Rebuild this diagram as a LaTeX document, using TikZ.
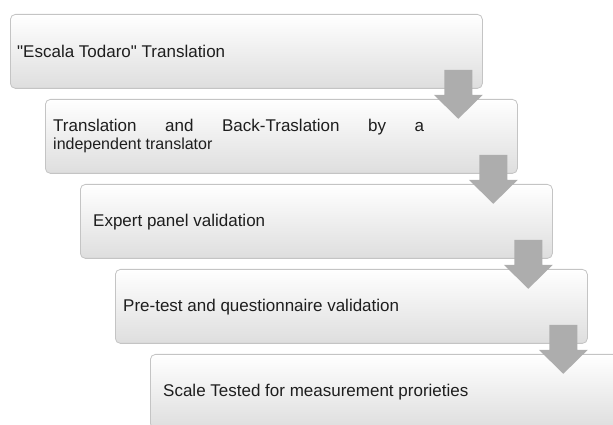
\documentclass[tikz,border=0pt]{standalone}
\usepackage{fontspec}
\newfontfamily\arialfont{Liberation Sans}
\definecolor{boxline}{HTML}{C4C4C4}
\definecolor{arrowgray}{HTML}{ADADAD}
\definecolor{txt}{HTML}{1E1E1E}
\begin{document}
\begin{tikzpicture}[
  stepbox/.style={rectangle, rounded corners=5pt, draw=boxline, line width=0.8pt,
    top color=white, middle color=black!3, bottom color=black!13,
    minimum width=472pt, minimum height=74pt, inner sep=0pt, anchor=north west},
  label/.style={anchor=west, inner sep=0pt, text=txt, font=\arialfont\fontsize{17}{18}\selectfont, align=left},
  blockarrow/.style={fill=arrowgray}
]
\useasboundingbox (0,0) rectangle (613pt,425pt);
\clip (0,0) rectangle (613pt,425pt);
% boxes
\foreach \i in {1,...,5}{
  \node[stepbox] (b\i) at ({10pt+35pt*(\i-1)},{411pt-85pt*(\i-1)}) {};
}
% texts
\node[label] (t1) at (17pt,374pt) {"Escala Todaro" Translation};
\node[label] (t2) at (53pt,289pt) {\hbox to 371pt{Translation\hfill and\hfill Back-Traslation\hfill by\hfill a}\\{\fontsize{16}{18}\selectfont independent translator}};
\node[label] (t3) at (93pt,203pt) {Expert panel validation};
\node[label] (t4) at (123pt,118pt) {Pre-test and questionnaire validation};
\node[label] (t5) at (163pt,33pt) {Scale Tested for measurement prorieties};
% block arrows
\foreach \i in {1,...,4}{
  \fill[blockarrow, shift={(b\i.south east)}]
    (-38.5pt,19pt) -- (-10.5pt,19pt) -- (-10.5pt,-6pt) -- (0pt,-6pt)
    -- (-24.5pt,-30pt) -- (-49pt,-6pt) -- (-38.5pt,-6pt) -- cycle;
}
\end{tikzpicture}
\end{document}
